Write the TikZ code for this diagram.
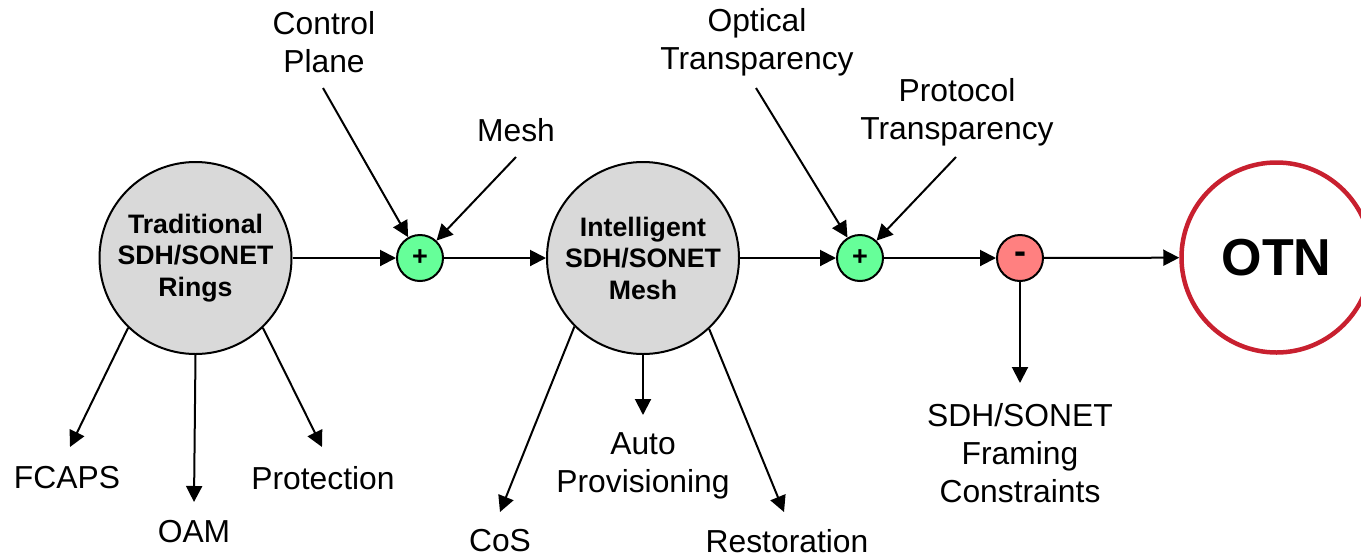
\documentclass[tikz,border=0pt]{standalone}
\usepackage{fontspec}
\setmainfont{Liberation Sans}
\usetikzlibrary{arrows.meta}
\definecolor{ringgray}{HTML}{D9D9D9}
\definecolor{plusgreen}{HTML}{66FF99}
\definecolor{minusred}{HTML}{FF8080}
\definecolor{otnred}{HTML}{C8202F}

\begin{document}
\begin{tikzpicture}[x=1pt,y=-1pt,
  stage/.style={circle,draw,line width=2pt,fill=ringgray,minimum size=192pt,
    inner sep=0pt,align=center,font=\bfseries\fontsize{26.7}{31.5}\selectfont},
  op/.style={circle,draw,line width=2pt,minimum size=46pt,inner sep=0pt,
    font=\bfseries\fontsize{27}{27}\selectfont},
  goal/.style={circle,draw=otnred,line width=4.5pt,minimum size=190pt,inner sep=0pt,
    font=\bfseries\fontsize{52}{52}\selectfont},
  lbl/.style={inner sep=0pt,align=center,font=\fontsize{31.8}{38}\selectfont},
  arr/.style={line width=2pt,-{Triangle[length=16pt,width=16pt]}}]

\useasboundingbox (0,0) rectangle (1361,558);
\clip (0,0) rectangle (1361,558);

% main chain
\node[stage] (trad) at (195.5,258) {Traditional\\SDH/SONET\\Rings};
\node[op,fill=plusgreen] (p1) at (420,258) {+};
\node[stage] (intel) at (643,258) {Intelligent\\SDH/SONET\\Mesh};
\node[op,fill=plusgreen] (p2) at (860,258) {+};
\node[op,fill=minusred,font=\bfseries\fontsize{36}{36}\selectfont] (m1) at (1020,258) {-};
\node[goal] (otn) at (1276.5,257.5) {OTN};

\draw[arr] (trad) -- (p1);
\draw[arr] (p1) -- (intel);
\draw[arr] (intel) -- (p2);
\draw[arr] (p2) -- (m1);
\draw[arr] (m1) -- (otn);

% inputs
\node[lbl] (cp) at (324,42) {Control\\Plane};
\node[lbl] (mesh) at (516,130) {Mesh};
\node[lbl] (opt) at (757,42) {Optical\\Transparency};
\node[lbl] (proto) at (957,112) {Protocol\\Transparency};

\coordinate (cpTail) at (323,88);
\coordinate (meshTail) at (516,157);
\coordinate (optTail) at (756,88);
\coordinate (protoTail) at (956,157);

\draw[arr] (cpTail) -- (p1);
\draw[arr] (meshTail) -- (p1);
\draw[arr] (optTail) -- (p2);
\draw[arr] (protoTail) -- (p2);

% outputs
\node[lbl] (fcaps) at (67,478) {FCAPS};
\node[lbl] (oam) at (194,532) {OAM};
\node[lbl] (prot) at (323,478) {Protection};
\node[lbl] (cos) at (500,541) {CoS};
\node[lbl] (auto) at (643,466) {Auto\\Provisioning};
\node[lbl] (rest) at (787,541) {Restoration};
\node[lbl] (frame) at (1020,453) {SDH/SONET\\Framing\\Constraints};

\coordinate (fcapsTip) at (70,447);
\coordinate (oamTip) at (194,502);
\coordinate (protTip) at (322,447);
\coordinate (cosTip) at (500,512);
\coordinate (autoTip) at (643,415);
\coordinate (restTip) at (784,512);
\coordinate (frameTip) at (1020,383);

\draw[arr] (trad.226) -- (fcapsTip);
\draw[arr] (trad.south) -- (oamTip);
\draw[arr] (trad.314) -- (protTip);
\draw[arr] (intel.225) -- (cosTip);
\draw[arr] (intel.south) -- (autoTip);
\draw[arr] (intel.313) -- (restTip);
\draw[arr] (m1.south) -- (frameTip);
\end{tikzpicture}
\end{document}
